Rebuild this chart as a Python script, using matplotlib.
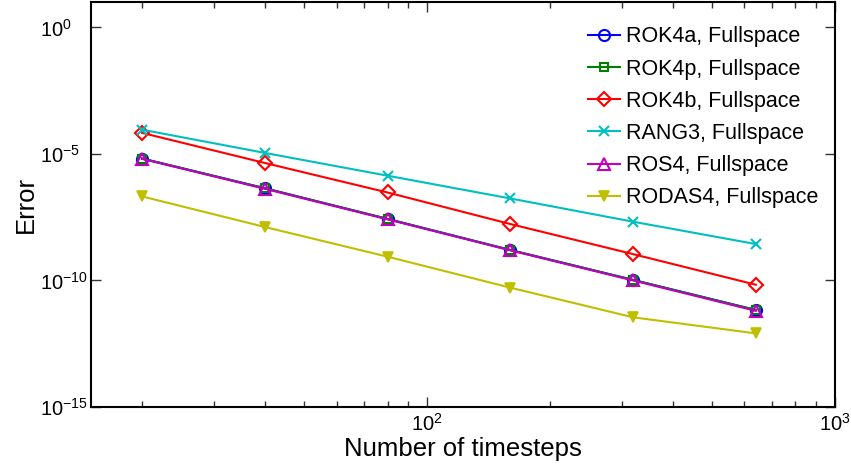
import matplotlib
matplotlib.use("Agg")
import matplotlib.pyplot as plt
import numpy as np
from matplotlib.ticker import FixedLocator, NullLocator, FuncFormatter

plt.rcParams['font.family'] = ['Liberation Sans', 'DejaVu Sans']
plt.rcParams['mathtext.fontset'] = 'custom'
plt.rcParams['mathtext.rm'] = 'Liberation Sans'
plt.rcParams['mathtext.it'] = 'Liberation Sans'

timesteps = [20, 40, 80, 160, 320, 640]
err_rok4a = [6.6e-6, 4.4e-7, 2.7e-8, 1.6e-9, 1.05e-10, 6.8e-12]
err_rok4p = [6.6e-6, 4.4e-7, 2.7e-8, 1.6e-9, 1.05e-10, 6.8e-12]
err_rok4b = [6.8e-5, 4.4e-6, 3.0e-7, 1.7e-8, 1.1e-9, 6.8e-11]
err_rang3 = [9.1e-5, 1.1e-5, 1.38e-6, 1.74e-7, 2.1e-8, 2.75e-9]
err_ros4 = [6.4e-6, 4.2e-7, 2.6e-8, 1.55e-9, 1.0e-10, 6.3e-12]
err_rodas4 = [2.1e-7, 1.3e-8, 8.7e-10, 5.2e-11, 3.5e-12, 8.1e-13]

labels = ["ROK4a, Fullspace", "ROK4p, Fullspace", "ROK4b, Fullspace",
          "RANG3, Fullspace", "ROS4, Fullspace", "RODAS4, Fullspace"]

fig = plt.figure(figsize=(8.51, 4.67), dpi=100)
ax = fig.add_axes([0.107, 0.1285, 0.874, 0.867])

lw = 1.5
ax.loglog(timesteps, err_rok4a, '-o', color=(0, 0, 1), lw=lw, ms=8, mfc='none', mew=1.5, label=labels[0])
ax.loglog(timesteps, err_rok4p, '-s', color=(0, 0.5, 0), lw=lw, ms=6, mfc='none', mew=1.5, label=labels[1])
ax.loglog(timesteps, err_rok4b, '-D', color=(1, 0, 0), lw=lw, ms=7, mfc='none', mew=1.5, label=labels[2])
ax.loglog(timesteps, err_rang3, '-x', color=(0, 0.75, 0.75), lw=lw, ms=7, mew=1.5, label=labels[3])
ax.loglog(timesteps, err_ros4, '-^', color=(0.75, 0, 0.75), lw=lw, ms=9, mfc='none', mew=1.5, label=labels[4])
ax.loglog(timesteps, err_rodas4, '-v', color=(0.75, 0.75, 0), lw=lw, ms=7, mew=1.2, label=labels[5])

ax.set_xlim(15, 1000)
ax.set_ylim(1e-15, 1e1)

ax.yaxis.set_major_locator(FixedLocator([1e-15, 1e-10, 1e-5, 1e0]))
ax.yaxis.set_minor_locator(NullLocator())
ax.xaxis.set_major_locator(FixedLocator([1e2, 1e3]))
ax.xaxis.set_minor_locator(FixedLocator([20, 30, 40, 50, 60, 70, 80, 90,
                                          200, 300, 400, 500, 600, 700, 800, 900]))

def fmt(v, pos):
    e = int(round(np.log10(v)))
    return r'$\mathregular{10^{%d}}$' % e
ax.xaxis.set_major_formatter(FuncFormatter(fmt))
ax.yaxis.set_major_formatter(FuncFormatter(fmt))

ax.tick_params(which='both', direction='in', top=True, right=True, labelsize=14.5, width=1.0, color='#333333')
ax.tick_params(which='major', length=7)
ax.tick_params(which='minor', length=4)
ax.tick_params(axis='x', pad=4)
ax.tick_params(axis='y', pad=36.5)
for lab in ax.get_yticklabels():
    lab.set_horizontalalignment('left')
for s in ax.spines.values():
    s.set_linewidth(1.5)

ax.set_xlabel("Number of timesteps", fontsize=18.5, labelpad=2)
ax.set_ylabel("Error", fontsize=18.5, labelpad=2)

leg = ax.legend(loc='upper left', frameon=False, fontsize=15.5, handlelength=1.5,
                labelspacing=0.52, handletextpad=0.25, borderaxespad=0, borderpad=0,
                bbox_to_anchor=(0.668, 0.94))

fig.savefig("out.png", dpi=100)
